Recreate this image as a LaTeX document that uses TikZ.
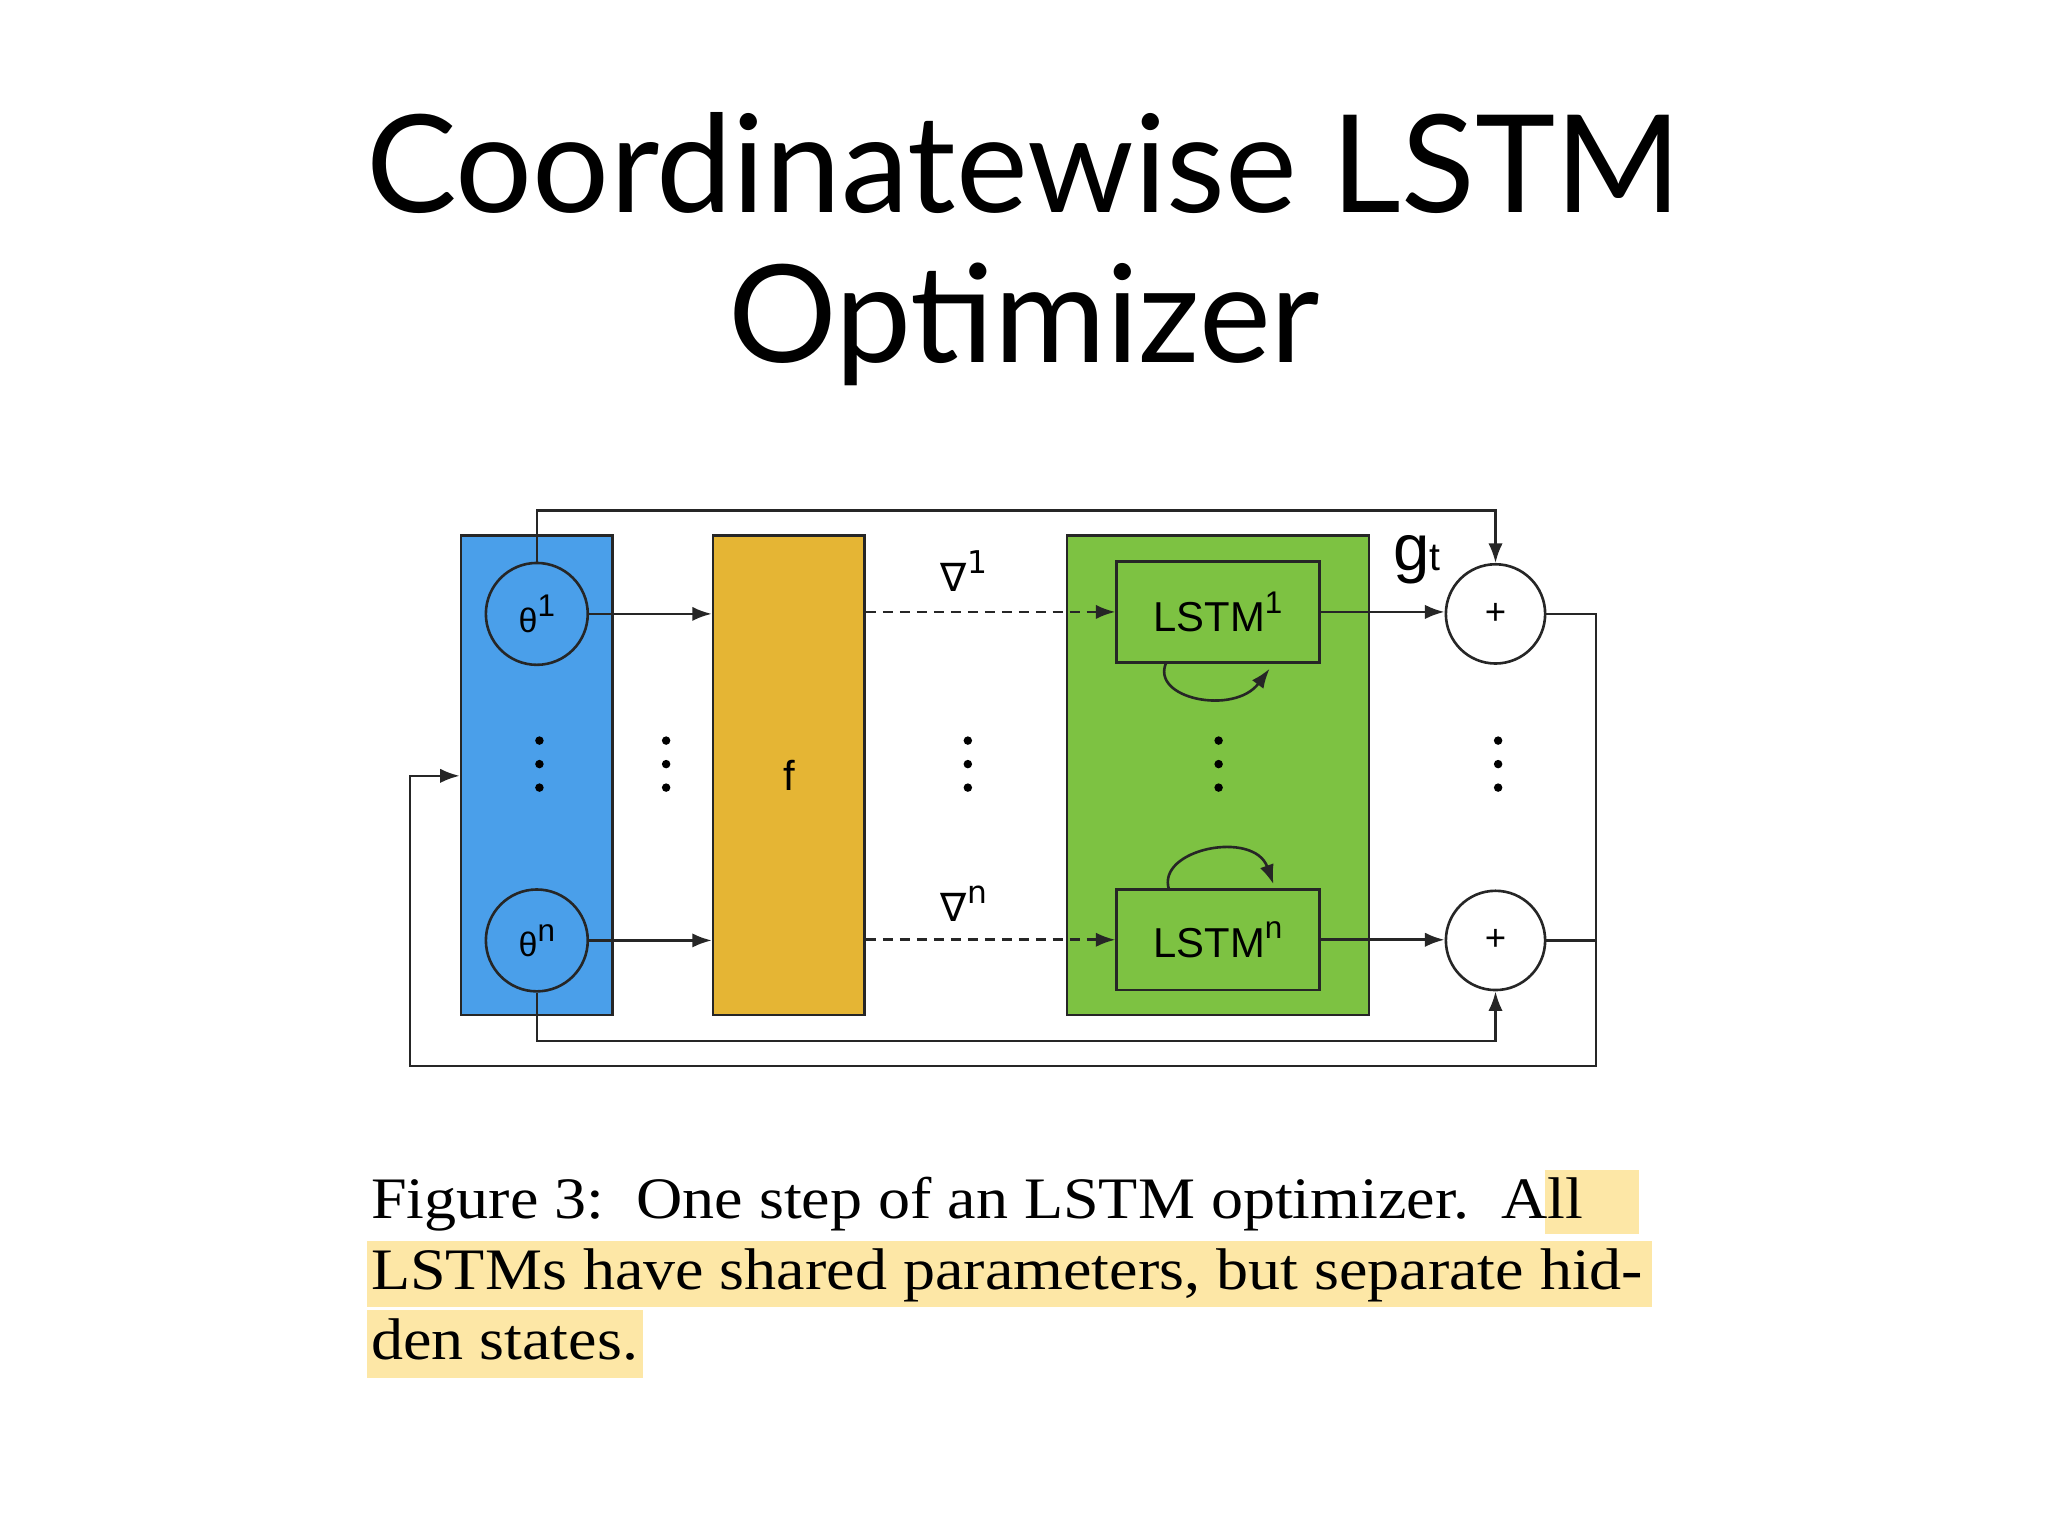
\documentclass[tikz,border=0pt]{standalone}
\usepackage{fontspec}
\setmainfont{Liberation Sans}
\newfontfamily\titlefont{Lato}
\newfontfamily\capfont[FakeStretch=1.09]{Liberation Serif}
\newfontfamily\dvfont{DejaVu Sans}
\usetikzlibrary{arrows.meta}
\definecolor{bl}{HTML}{4A9FEA}
\definecolor{yl}{HTML}{E5B534}
\definecolor{gr}{HTML}{7DC242}
\definecolor{hl}{HTML}{FDE7A6}
\newcommand{\sps}[1]{\raisebox{0.45em}{\fontsize{24}{24}\selectfont #1}}
\begin{document}
\begin{tikzpicture}[x=1pt,y=-1pt,
  ln/.style={line width=2pt,draw=black!85},
  arr/.style={ln,-{Latex[length=15pt,width=11pt]}},
  circ/.style={circle,ln,minimum size=78pt,inner sep=0pt},
  lbox/.style={ln,minimum width=155pt,minimum height=77pt,inner sep=0pt,font=\fontsize{32}{36}\selectfont},
  dot/.style={circle,fill=black,inner sep=0pt,minimum size=6.5pt}]
\useasboundingbox (0,0) rectangle (1568,1176);
\fill[white] (0,0) rectangle (1568,1176);
\node (t1) at (784,125) {\titlefont\fontsize{104}{112}\selectfont Coordinatewise LSTM};
\node (t2) at (784,248) {\titlefont\fontsize{104}{112}\selectfont Optimizer};
% boxes
\node[ln,fill=bl,minimum width=116pt,minimum height=367pt,inner sep=0pt] (B) at (411,593.5) {};
\node[ln,fill=yl,minimum width=116pt,minimum height=367pt,inner sep=0pt,font=\fontsize{32}{36}\selectfont] (Y) at (604,593.5) {f};
\node[ln,fill=gr,minimum width=231pt,minimum height=367pt,inner sep=0pt] (G) at (932.5,593.5) {};
\node[circ,font=\fontsize{26}{30}\selectfont] (th1) at (411,470) {θ\sps{1}};
\node[circ,font=\fontsize{26}{30}\selectfont] (thn) at (411,720) {θ\sps{n}};
\node[lbox] (L1) at (932.5,468.5) {LSTM\sps{1}};
\node[lbox] (Ln) at (932.5,719.5) {LSTM\sps{n}};
\node[circ,minimum size=76pt,font=\fontsize{28}{30}\selectfont] (p1) at (1145,470) {+};
\node[circ,minimum size=76pt,font=\fontsize{28}{30}\selectfont] (pn) at (1145,720) {+};
% dots
\foreach \x/\n in {413/a,510/b,741/c,933/d,1147/e}{
  \node[dot] (d\n1) at (\x,567) {};
  \node[dot] (d\n2) at (\x,585) {};
  \node[dot] (d\n3) at (\x,603) {};}
% arrows
\draw[arr] (th1.east) -- (th1.east -| Y.west);
\draw[arr] (thn.east) -- (thn.east -| Y.west);
\draw[arr,dash pattern=on 8pt off 5pt] (Y.east |- L1.west) -- (L1.west);
\draw[arr,dash pattern=on 8pt off 5pt] (Y.east |- Ln.west) -- (Ln.west);
\node[font=\dvfont\fontsize{30}{30}\selectfont] (g1) at (738,437) {∇\sps{1}};
\node[font=\dvfont\fontsize{30}{30}\selectfont] (gn) at (738,692) {∇\sps{n}};
\draw[arr] (L1.east) -- (L1.east -| p1.west);
\draw[arr] (Ln.east) -- (Ln.east -| pn.west);
\node[font=\fontsize{50}{50}\selectfont,anchor=base] (gt) at (1085,437) {g\fontsize{30}{30}\selectfont t};
% top/bottom lines
\coordinate (c1) at (411,391);
\draw[arr] (th1.north) -- (c1) -| (p1.north);
\coordinate (c2) at (411,797);
\draw[arr] (thn.south) -- (c2) -| (pn.south);
% self loops
\draw[arr] (893,507) .. controls (880,535) and (945,548) .. (972,512);
\draw[arr] (895,681) .. controls (885,650) and (960,635) .. (975,677);
% outer loop
\coordinate (o1) at (1222,816);
\coordinate (o2) at (314,594);
\draw[ln] (pn.east) -- (pn.east -| o1);
\draw[arr] (p1.east) -| (o1) -| (o2) -- (o2 -| B.west);
% caption
\fill[hl] (1183,896) rectangle (1255,945);
\fill[hl] (281,950) rectangle (1265,1001);
\fill[hl] (281,1003) rectangle (492,1055);
\begin{scope}[every node/.style={anchor=base west,inner sep=0pt,font=\capfont\fontsize{45}{45}\selectfont}]
\node (cap1) at (284,933) {Figure 3:\ \ One step of an LSTM optimizer.\ \ All};
\node (cap2) at (284,987) {LSTMs have shared parameters, but separate hid-};
\node (cap3) at (284,1041) {den states.};
\end{scope}
\end{tikzpicture}
\end{document}
